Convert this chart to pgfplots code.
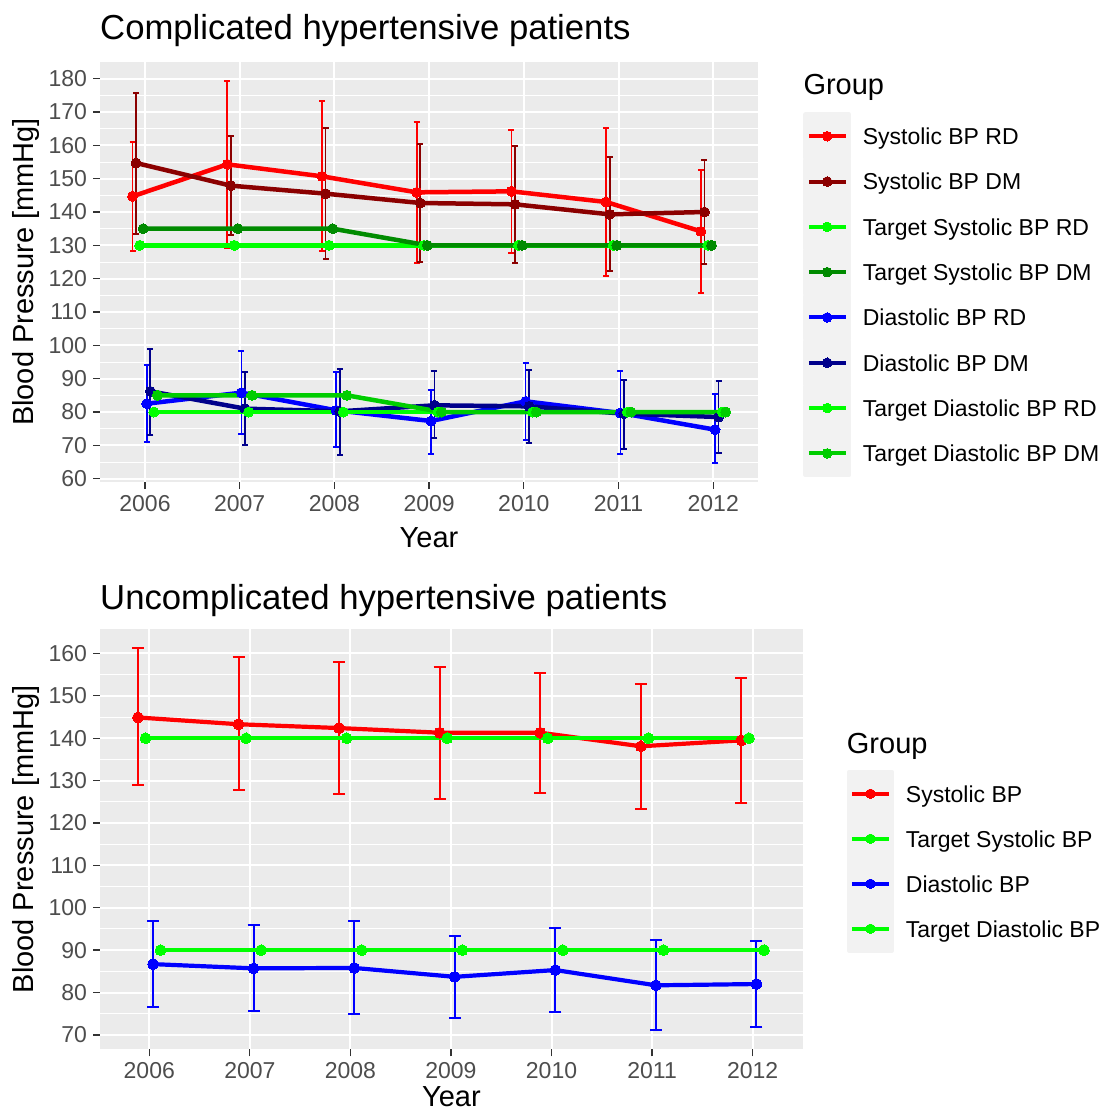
\documentclass[border=0pt]{standalone}
\usepackage{pgfplots}
\pgfplotsset{compat=1.18}
\usepackage{pgfplotstable}
\usepackage{fontspec}
\setmainfont{Liberation Sans}

\definecolor{panelgray}{HTML}{EBEBEB}
\definecolor{keygray}{HTML}{F2F2F2}
\definecolor{ticklab}{HTML}{4D4D4D}
\definecolor{tickcol}{HTML}{333333}
\definecolor{sysRD}{HTML}{FF0000}
\definecolor{sysDM}{HTML}{8B0000}
\definecolor{tsysRD}{HTML}{00FF00}
\definecolor{tsysDM}{HTML}{008B00}
\definecolor{diaRD}{HTML}{0000FF}
\definecolor{diaDM}{HTML}{00008B}
\definecolor{tdiaRD}{HTML}{00FF00}
\definecolor{tdiaDM}{HTML}{00CD00}

% ---------- top panel data ----------
\pgfplotstableread{
year m lo hi
2006 144.7 128.3 161.0
2007 154.3 129.2 179.3
2008 150.7 128.3 173.3
2009 145.9 124.8 167.0
2010 146.2 127.8 164.5
2011 143.0 120.7 165.1
2012 134.2 115.8 152.5
}\topSysRD
\pgfplotstableread{
year m lo hi
2006 154.7 133.5 175.7
2007 147.9 133.0 162.9
2008 145.5 126.0 165.3
2009 142.7 125.0 160.3
2010 142.3 124.8 159.7
2011 139.3 122.3 156.5
2012 140.0 124.5 155.5
}\topSysDM
\pgfplotstableread{
year m
2006 130
2007 130
2008 130
2009 130
2010 130
2011 130
2012 130
}\topTSysRD
\pgfplotstableread{
year m
2006 135
2007 135
2008 135
2009 130
2010 130
2011 130
2012 130
}\topTSysDM
\pgfplotstableread{
year m lo hi
2006 82.5 71.0 94.0
2007 85.8 73.5 98.2
2008 80.5 69.4 92.0
2009 77.3 67.5 86.7
2010 83.2 71.5 94.8
2011 79.7 67.5 92.3
2012 74.7 64.7 85.3
}\topDiaRD
\pgfplotstableread{
year m lo hi
2006 86.2 73.0 99.0
2007 81.0 70.0 92.0
2008 80.2 67.2 92.8
2009 82.0 72.3 92.2
2010 81.7 70.7 92.7
2011 79.5 69.0 89.7
2012 78.5 67.8 89.3
}\topDiaDM
\pgfplotstableread{
year m
2006 80
2007 80
2008 80
2009 80
2010 80
2011 80
2012 80
}\topTDiaRD
\pgfplotstableread{
year m
2006 85
2007 85
2008 85
2009 80
2010 80
2011 80
2012 80
}\topTDiaDM

% ---------- bottom panel data ----------
\pgfplotstableread{
year m lo hi
2006 144.9 128.9 161.2
2007 143.3 127.7 159.1
2008 142.4 126.9 157.9
2009 141.3 125.6 156.7
2010 141.3 127.0 155.5
2011 138.1 123.4 152.9
2012 139.5 124.6 154.3
}\botSys
\pgfplotstableread{
year m
2006 140
2007 140
2008 140
2009 140
2010 140
2011 140
2012 140
}\botTSys
\pgfplotstableread{
year m lo hi
2006 86.7 76.5 96.9
2007 85.7 75.7 95.9
2008 85.8 74.9 96.9
2009 83.7 74.1 93.4
2010 85.3 75.3 95.3
2011 81.7 71.1 92.4
2012 82.0 71.9 92.2
}\botDia
\pgfplotstableread{
year m
2006 90
2007 90
2008 90
2009 90
2010 90
2011 90
2012 90
}\botTDia

\newcommand\ticksize{\fontsize{23}{27}\selectfont}
\newcommand\titlesize{\fontsize{29}{34}\selectfont}

\pgfplotsset{
  ggbase/.style={
    scale only axis,
    axis background/.style={fill=panelgray},
    axis line style={draw=none},
    tick pos=left, tick align=outside,
    major tick length=7pt, minor tick length=0pt,
    every tick/.append style={tickcol, line width=1.3pt},
    grid=both,
    major grid style={white, line width=2pt},
    minor grid style={white, line width=1pt},
    minor tick num=1,
    xtick={2006,2007,...,2012},
    /pgf/number format/1000 sep={},
    /pgf/number format/assume math mode=true,
    ticklabel style={font=\ticksize, text=ticklab},
    yticklabel style={inner sep=0pt, anchor=east, xshift=-5.8pt},
    xticklabel style={inner sep=0pt, anchor=north, yshift=-6pt},
    legend cell align=left,
    legend style={draw=none, fill=none, inner sep=0pt, outer sep=0pt,
      row sep=-2.6pt, column sep=11.6pt, font=\ticksize, anchor=north west,
      nodes={inner sep=0pt, text height=16.5pt, text depth=0pt}},
    legend image code/.code={
      \fill[keygray] (0pt,-21.7pt) rectangle (43.4pt,21.7pt);
      \draw[mark repeat=2, mark phase=2, #1, line width=4pt, mark size=4.8pt]
        plot coordinates {(3.4pt,0pt) (21.7pt,0pt) (40pt,0pt)};
    },
    clip=false,
  },
  ser/.style={#1, line width=4.5pt, line join=round, mark=*, mark size=5pt,
    mark options={line width=0pt}},
  serb/.style={#1, line width=4.2pt, line join=round, mark=*, mark size=5.4pt,
    mark options={line width=0pt}},
  ebtop/.style={error bars/.cd, y dir=both, y explicit,
    error bar style={line width=1.7pt},
    error mark options={rotate=90, mark size=3pt, line width=1.7pt}},
  ebbot/.style={error bars/.cd, y dir=both, y explicit,
    error bar style={line width=2pt},
    error mark options={rotate=90, mark size=6pt, line width=2pt}},
}

\begin{document}
\begin{tikzpicture}
\path[use as bounding box] (0pt,0pt) rectangle (1116pt,-1113pt);

% ================= TOP =================
\begin{axis}[ggbase,
  at={(100pt,-482pt)}, anchor=south west,
  width=658pt, height=420pt,
  xmin=2005.525, xmax=2012.472,
  ymin=59, ymax=185,
  ytick={60,70,...,180},
  legend style={at={(axis description cs:1.06884,0.88024)}},
]
\addplot[ser=sysRD, ebtop] table[x expr=\thisrow{year}-0.13125, y=m,
  y error plus expr=\thisrow{hi}-\thisrow{m}, y error minus expr=\thisrow{m}-\thisrow{lo}] {\topSysRD};
\addlegendentry{Systolic BP RD}
\addplot[ser=sysDM, ebtop] table[x expr=\thisrow{year}-0.09375, y=m,
  y error plus expr=\thisrow{hi}-\thisrow{m}, y error minus expr=\thisrow{m}-\thisrow{lo}] {\topSysDM};
\addlegendentry{Systolic BP DM}
\addplot[ser=tsysRD] table[x expr=\thisrow{year}-0.05625, y=m] {\topTSysRD};
\addlegendentry{Target Systolic BP RD}
\addplot[ser=tsysDM] table[x expr=\thisrow{year}-0.01875, y=m] {\topTSysDM};
\addlegendentry{Target Systolic BP DM}
\addplot[ser=diaRD, ebtop] table[x expr=\thisrow{year}+0.01875, y=m,
  y error plus expr=\thisrow{hi}-\thisrow{m}, y error minus expr=\thisrow{m}-\thisrow{lo}] {\topDiaRD};
\addlegendentry{Diastolic BP RD}
\addplot[ser=diaDM, ebtop] table[x expr=\thisrow{year}+0.05625, y=m,
  y error plus expr=\thisrow{hi}-\thisrow{m}, y error minus expr=\thisrow{m}-\thisrow{lo}] {\topDiaDM};
\addlegendentry{Diastolic BP DM}
\addplot[ser=tdiaRD] table[x expr=\thisrow{year}+0.09375, y=m] {\topTDiaRD};
\addlegendentry{Target Diastolic BP RD}
\addplot[ser=tdiaDM] table[x expr=\thisrow{year}+0.13125, y=m] {\topTDiaDM};
\addlegendentry{Target Diastolic BP DM}
\end{axis}

% ================= BOTTOM =================
\begin{axis}[ggbase,
  at={(100pt,-1049.3pt)}, anchor=south west,
  width=702.7pt, height=420pt,
  xmin=2005.51, xmax=2012.497,
  ymin=66.6, ymax=165.7,
  ytick={70,80,...,160},
  legend style={at={(axis description cs:1.06262,0.665)}},
]
\addplot[serb=sysRD, ebbot] table[x expr=\thisrow{year}-0.1125, y=m,
  y error plus expr=\thisrow{hi}-\thisrow{m}, y error minus expr=\thisrow{m}-\thisrow{lo}] {\botSys};
\addlegendentry{Systolic BP}
\addplot[serb=tsysRD] table[x expr=\thisrow{year}-0.0375, y=m] {\botTSys};
\addlegendentry{Target Systolic BP}
\addplot[serb=diaRD, ebbot] table[x expr=\thisrow{year}+0.0375, y=m,
  y error plus expr=\thisrow{hi}-\thisrow{m}, y error minus expr=\thisrow{m}-\thisrow{lo}] {\botDia};
\addlegendentry{Diastolic BP}
\addplot[serb=tdiaRD] table[x expr=\thisrow{year}+0.1125, y=m] {\botTDia};
\addlegendentry{Target Diastolic BP}
\end{axis}

% ================= texts =================
\node[anchor=base west, inner sep=0pt, font=\fontsize{34.7}{40}\selectfont] at (100pt,-40pt) {Complicated hypertensive patients};
\node[anchor=base west, inner sep=0pt, font=\fontsize{34.7}{40}\selectfont] at (100pt,-609pt) {Uncomplicated hypertensive patients};
\node[anchor=base, inner sep=0pt, font=\titlesize] at (429pt,-547.5pt) {Year};
\node[anchor=base, inner sep=0pt, font=\titlesize] at (451.4pt,-1106pt) {Year};
\node[anchor=base, rotate=90, inner sep=0pt, font=\titlesize] at (33.5pt,-272pt) {Blood Pressure [mmHg]};
\node[anchor=base, rotate=90, inner sep=0pt, font=\titlesize] at (33.5pt,-839.3pt) {Blood Pressure [mmHg]};
\node[anchor=base west, inner sep=0pt, font=\titlesize] at (803.3pt,-95pt) {Group};
\node[anchor=base west, inner sep=0pt, font=\titlesize] at (846.7pt,-753.3pt) {Group};
\end{tikzpicture}
\end{document}
